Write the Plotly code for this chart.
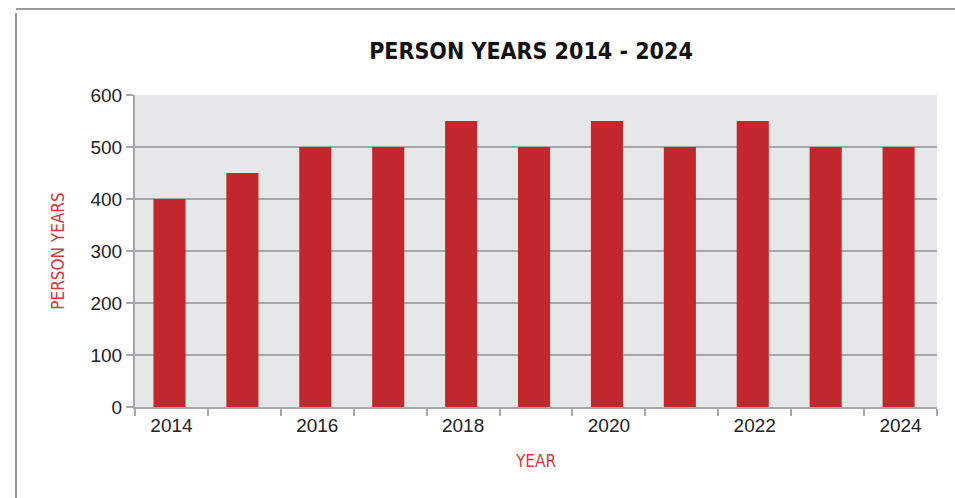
import plotly.graph_objects as go

years = [2014, 2015, 2016, 2017, 2018, 2019, 2020, 2021, 2022, 2023, 2024]
person_years = [400, 450, 500, 500, 550, 500, 550, 500, 550, 500, 500]
label_years = [2014, 2016, 2018, 2020, 2022, 2024]
y_ticks = [0, 100, 200, 300, 400, 500, 600]

BAR = "#c1272d"
RED_TXT = "#d23a40"
GRID = "#a7a7a9"
TXT = "#222222"
COND = "DejaVu Sans Condensed, Roboto, sans-serif"

fig = go.Figure(go.Bar(x=years, y=person_years, marker=dict(color=BAR, line=dict(width=0)),
                       width=0.44, offset=-0.247, hoverinfo="x+y"))

L, R, T, B = 135, 18, 95, 91
W, H = 955, 498
pw, ph = W - L - R, H - T - B

fig.update_layout(
    width=W, height=H,
    margin=dict(l=L, r=R, t=T, b=B),
    paper_bgcolor="white",
    plot_bgcolor="#e6e7e9",
    showlegend=False,
    title=dict(text="<b>PERSON YEARS 2014 - 2024</b>", x=(531) / W, xanchor="center",
               y=1 - 51 / H, yanchor="middle",
               font=dict(family=COND, size=23, color="#111111")),
    font=dict(family="Liberation Sans", size=19, color=TXT),
    bargap=0.56,
)

fig.update_xaxes(
    range=[2013.5, 2024.5],
    tickmode="array", tickvals=label_years, ticktext=[str(v) for v in label_years],
    ticks="", showgrid=False, zeroline=False,
    showline=True, linecolor=GRID, linewidth=2,
    tickfont=dict(family="Liberation Sans", size=19, color=TXT),
    minor=dict(tick0=2013.5, dtick=1, ticks="outside", ticklen=7, tickcolor=GRID, tickwidth=1.5, showgrid=False),
    title=dict(text="YEAR", font=dict(family=COND, size=17, color=RED_TXT), standoff=20),
    fixedrange=True,
)
fig.update_yaxes(
    range=[0, 600],
    tickmode="array", tickvals=y_ticks,
    showgrid=True, gridcolor=GRID, gridwidth=1.5,
    ticks="outside", ticklen=7, tickcolor=GRID, tickwidth=1.5,
    showline=True, linecolor=GRID, linewidth=2, zeroline=False,
    tickfont=dict(family="Liberation Sans", size=19, color=TXT),
    title=dict(text="PERSON YEARS", font=dict(family=COND, size=17, color=RED_TXT), standoff=22),
    fixedrange=True,
)

# outer frame of the chart box
fig.add_shape(type="line", xref="paper", yref="paper",
              x0=(16 - L) / pw, x1=(16 - L) / pw, y0=(H - T - 9) / ph, y1=-(B + 5) / ph,
              line=dict(color="#9a9a9a", width=2))
fig.add_shape(type="line", xref="paper", yref="paper",
              x0=(16 - L) / pw, x1=(W + 5 - L) / pw, y0=(H - B - 9) / ph, y1=(H - B - 9) / ph,
              line=dict(color="#9a9a9a", width=2))

fig.write_html("out.html")
